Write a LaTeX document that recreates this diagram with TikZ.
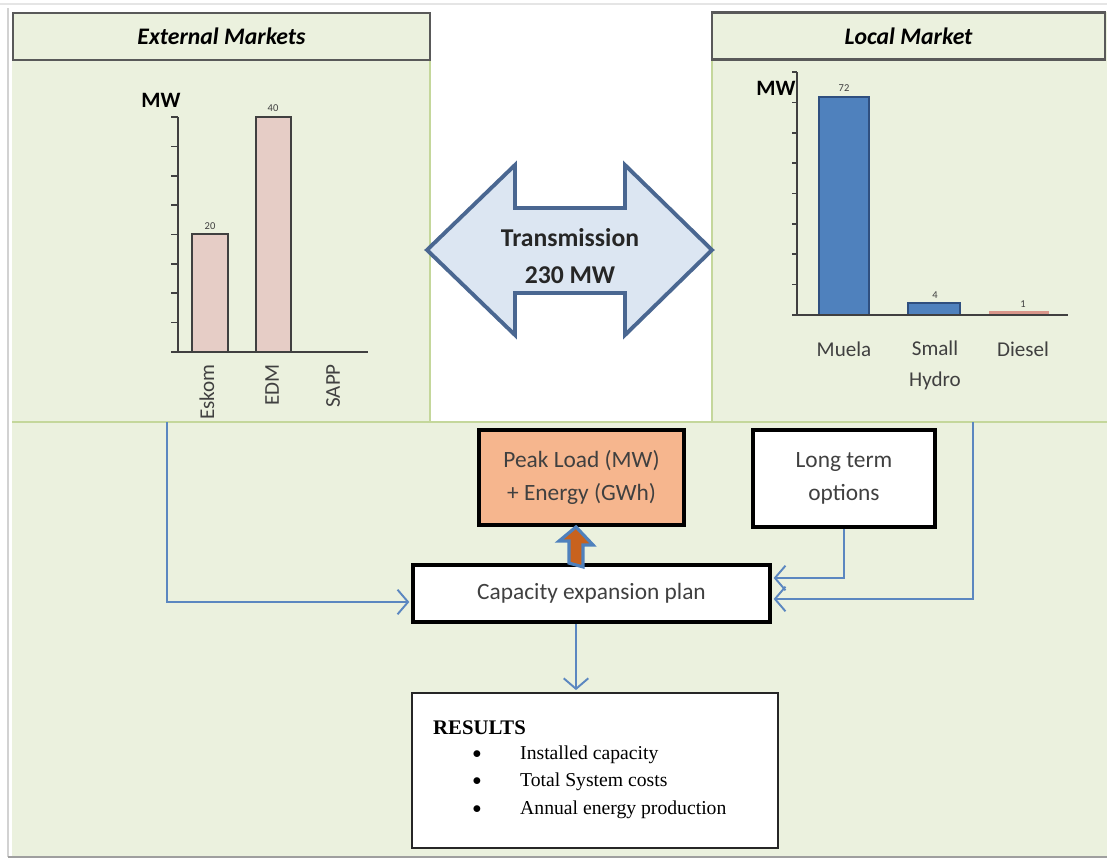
\documentclass[tikz,border=0pt]{standalone}
\usepackage{fontspec}
\setmainfont{Carlito}
\newfontfamily\resfont{Liberation Serif}
\usepackage{tikz}
\usetikzlibrary{arrows.meta,positioning}

\definecolor{olivebg}{HTML}{EBF1DE}
\definecolor{oliveline}{HTML}{C4D79B}
\definecolor{titlegray}{HTML}{595959}
\definecolor{pinkbar}{HTML}{E6CDC6}
\definecolor{bluebar}{HTML}{4F81BD}
\definecolor{bluedark}{HTML}{2F4F7F}
\definecolor{linkblue}{HTML}{5B87C0}
\definecolor{peakorange}{HTML}{F6B68E}
\definecolor{uporange}{HTML}{C8621E}
\definecolor{arrowfill}{HTML}{DCE6F2}
\definecolor{arrowline}{HTML}{4A6791}
\definecolor{labgray}{HTML}{404040}
\definecolor{dieselred}{HTML}{D9968A}

\begin{document}
\begin{tikzpicture}[x=0.02cm,y=-0.02cm,
        titlebox/.style={draw=titlegray,line width=1.3pt,fill=olivebg,minimum height=0.94cm,
            font=\fontsize{13.5}{15}\selectfont\bfseries\itshape},
        flowbox/.style={draw=black,line width=2.2pt,fill=white,align=center,text=labgray,
            font=\fontsize{13.3}{18.7}\selectfont},
        link/.style={draw=linkblue,line width=1.1pt,shorten >=1pt,
            -{Straight Barb[length=6pt,width=14pt]}},
        axis/.style={draw=labgray,line width=0.9pt},
        catlabel/.style={text=labgray,font=\fontsize{12}{17.6}\selectfont},
        vallabel/.style={text=labgray,font=\fontsize{6}{6}\selectfont},
        mwlabel/.style={font=\fontsize{12.5}{14}\selectfont\bfseries}
    ]
    \useasboundingbox (0,0) rectangle (1107,859);
    % panels
    \fill[olivebg] (12,12) rectangle (430,422);
    \fill[olivebg] (712,12) rectangle (1107,422);
    \fill[olivebg] (12,422) rectangle (1107,857);
    \draw[oliveline,line width=0.8pt] (430,60) -- (430,422) -- (712,422) -- (712,60);
    \draw[oliveline,line width=1pt] (12,422) -- (1107,422);
    \draw[gray!20,line width=1.5pt] (0,4) -- (1107,4);
    \draw[gray!35,line width=1.2pt] (8,8) -- (8,857);
    \draw[gray!75,line width=1.2pt] (8,857) -- (1107,857);

    \node[titlebox,minimum width=8.34cm] (ext) at (221.5,36.5) {External Markets};
    \node[titlebox,minimum width=7.86cm] (loc) at (908.5,36) {Local Market};

    % external markets chart
    \node[mwlabel] (mwext) at (161,100) {MW};
    \draw[axis] (178,117) -- (178,352);
    \foreach \k in {0,...,8}
        \draw[axis] (171,117+\k*29.375) -- (178,117+\k*29.375);
    \draw[draw=labgray,fill=pinkbar,line width=0.9pt] (192,352) rectangle (228,234);
    \draw[draw=labgray,fill=pinkbar,line width=0.9pt] (256,352) rectangle (291,117);
    \draw[axis] (174,352) -- (368,352);
    \node[vallabel] (v20) at (210,226) {20};
    \node[vallabel] (v40) at (273,108) {40};
    \node[catlabel,rotate=90,anchor=east] (eskom) at (207,358) {Eskom};
    \node[catlabel,rotate=90,anchor=east] (edm) at (272,358) {EDM};
    \node[catlabel,rotate=90,anchor=east] (sapp) at (333,358) {SAPP};

    % local market chart
    \node[mwlabel] (mwloc) at (776,88) {MW};
    \draw[axis] (797,72) -- (797,315);
    \foreach \k in {0,...,8}
        \draw[axis] (792,72+\k*30.375) -- (797,72+\k*30.375);
    \draw[draw=bluedark,fill=bluebar,line width=1pt] (819,315) rectangle (869,97);
    \draw[draw=bluedark,fill=bluebar,line width=1pt] (908,315) rectangle (960,303);
    \draw[draw=dieselred,fill=dieselred,line width=0.6pt] (990,315) rectangle (1048,312);
    \draw[axis] (793,315) -- (1068,315);
    \node[vallabel] (v72) at (844,88) {72};
    \node[vallabel] (v4) at (935,295) {4};
    \node[vallabel] (v1) at (1023,304) {1};
    \node[catlabel] (muela) at (844,349) {Muela};
    \node[catlabel,align=center] (shydro) at (935,365) {Small\\Hydro};
    \node[catlabel] (diesel) at (1023,349) {Diesel};

    % transmission
    \draw[fill=arrowfill,draw=arrowline,line width=2.2pt,line join=miter]
        (427,250) -- (515,165) -- (515,208) -- (625,208) -- (625,165) -- (712,250)
        -- (625,335) -- (625,293) -- (515,293) -- (515,335) -- cycle;
    \node[align=center,text=black!85,font=\fontsize{14.6}{21.5}\selectfont\bfseries]
        (trans) at (570,256) {Transmission\\230 MW};

    % flow
    \node[flowbox,fill=peakorange,minimum width=4.1cm,minimum height=1.9cm]
        (peak) at (581.5,477.5) {Peak Load (MW)\\+ Energy (GWh)};
    \node[flowbox,minimum width=3.64cm,minimum height=1.94cm]
        (lto) at (844,478.5) {Long term\\options};
    \node[flowbox,minimum width=7.14cm,minimum height=1.14cm]
        (cap) at (591.5,593.5) {Capacity expansion plan};
    \node[draw=black!85,line width=1.3pt,fill=white,minimum width=7.32cm,minimum height=3.1cm]
        (res) at (595,770.5) {};
    \node[anchor=west,font=\resfont\fontsize{11.8}{14}\selectfont\bfseries] (restitle) at (427,728) {RESULTS};
    \node[font=\resfont\fontsize{10}{13}\selectfont] (b1) at (477,755) {$\bullet$};
    \node[font=\resfont\fontsize{10}{13}\selectfont] (b2) at (477,782) {$\bullet$};
    \node[font=\resfont\fontsize{10}{13}\selectfont] (b3) at (477,810) {$\bullet$};
    \node[anchor=west,font=\resfont\fontsize{11.2}{13}\selectfont] (r1) at (514,755) {Installed capacity};
    \node[anchor=west,font=\resfont\fontsize{11.2}{13}\selectfont] (r2) at (514,782) {Total System costs};
    \node[anchor=west,font=\resfont\fontsize{11.2}{13}\selectfont] (r3) at (514,810) {Annual energy production};

    \coordinate (extL) at (167,422);
    \coordinate (locR) at (973,422);
    \coordinate (upx) at (576,0);

    \draw[link] (extL) |- ([yshift=-0.17cm]cap.west);
    \draw[link] (locR) |- ([yshift=-0.11cm]cap.east);
    \draw[link] (lto.south) |- ([yshift=0.31cm]cap.east);
    \draw[link] (cap.south -| upx) -- (res.north -| upx);
    \draw[fill=uporange,draw=bluebar,line width=1.8pt,line join=miter]
        (cap.north -| upx) ++(-7,0) -- ++(0,-22) -- ++(-10,0) -- (peak.south -| upx)
        -- ++(17,18) -- ++(-10,0) -- ++(0,22) -- cycle;
\end{tikzpicture}
\end{document}
